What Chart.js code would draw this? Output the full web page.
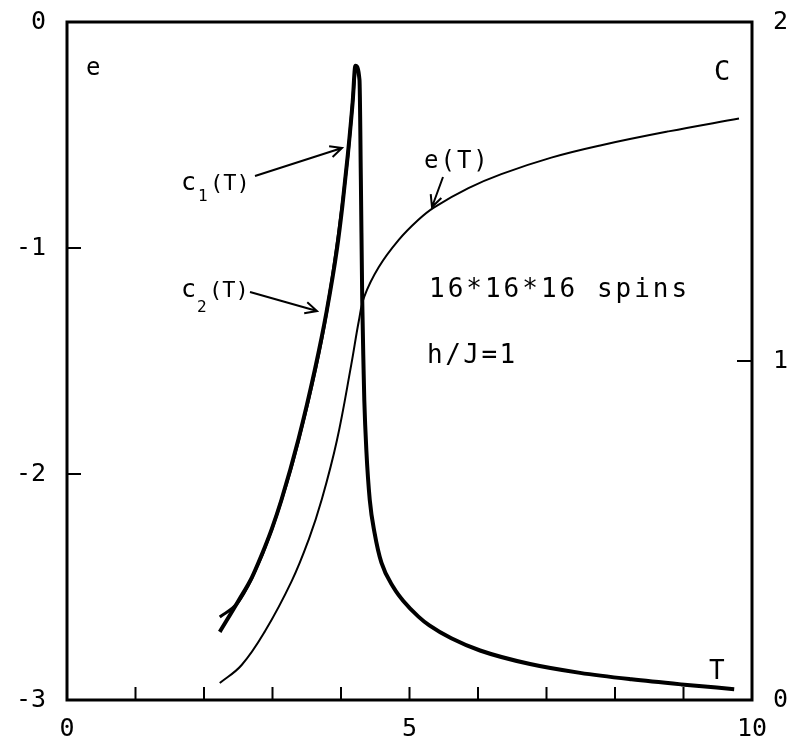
<!DOCTYPE html>
<html>
<head>
<meta charset="utf-8">
<script src="https://cdn.jsdelivr.net/npm/chart.js@4.4.0/dist/chart.umd.min.js"></script>
<style>
  html, body { margin: 0; padding: 0; background: #fff; }
  canvas { display: block; }
</style>
</head>
<body>
<canvas id="chart" width="790" height="738"></canvas>
<script>
// e(T): energy per spin, left axis
const tE = [2.23, 2.55, 2.89, 3.28, 3.53, 3.72, 3.94, 4.15, 4.26, 4.34, 4.55, 4.84, 5.13, 5.36, 5.86, 6.34, 7.07, 7.80, 8.78, 9.81];
const eValues = [-2.925, -2.845, -2.696, -2.474, -2.289, -2.112, -1.852, -1.516, -1.323, -1.215, -1.085, -0.965, -0.875, -0.820, -0.735, -0.673, -0.600, -0.545, -0.484, -0.427];

// c1(T): specific heat, right axis
const tC1 = [2.23, 2.51, 2.70, 2.84, 2.99, 3.13, 3.38, 3.62, 3.79, 3.94, 4.02, 4.10, 4.17, 4.21, 4.27, 4.29, 4.31, 4.33, 4.34, 4.37, 4.42, 4.49, 4.59, 4.77, 4.91, 5.13, 5.29, 5.61, 6.03, 6.76, 7.49, 8.24, 8.97, 9.74];
const c1Values = [0.201, 0.295, 0.362, 0.427, 0.505, 0.590, 0.770, 0.976, 1.146, 1.329, 1.457, 1.609, 1.763, 1.871, 1.829, 1.534, 1.180, 0.973, 0.885, 0.737, 0.590, 0.493, 0.405, 0.331, 0.292, 0.246, 0.220, 0.182, 0.146, 0.106, 0.080, 0.061, 0.046, 0.032];

// c2(T): second estimate, almost on top of c1 below Tc
const tC2 = [2.23, 2.49, 2.70, 2.99, 3.38, 3.79, 4.10, 4.21];
const c2Values = [0.245, 0.286, 0.360, 0.503, 0.766, 1.143, 1.605, 1.866];

// tick labels / marks
const xTickLabels = [0, 5, 10];
const xTickMarks = [1, 2, 3, 4, 5, 6, 7, 8, 9];
const eTickMarks = [-1, -2];
const cTickMarks = [1];

const toPoints = (xs, ys) => xs.map((x, i) => ({ x: x, y: ys[i] }));

const tickFont = { family: 'DejaVu Sans Mono', size: 25 };

// draw an open arrow head at (x2, y2)
function drawArrow(ctx, x1, y1, x2, y2) {
  const a = Math.atan2(y2 - y1, x2 - x1);
  const h = 13;
  ctx.beginPath();
  ctx.moveTo(x1, y1);
  ctx.lineTo(x2, y2);
  ctx.moveTo(x2 - h * Math.cos(a - 0.45), y2 - h * Math.sin(a - 0.45));
  ctx.lineTo(x2, y2);
  ctx.lineTo(x2 - h * Math.cos(a + 0.45), y2 - h * Math.sin(a + 0.45));
  ctx.stroke();
}

function drawText(ctx, str, x, y, size, spacing) {
  ctx.font = size + 'px "DejaVu Sans Mono"';
  ctx.letterSpacing = (spacing || 0) + 'px';
  ctx.fillText(str, x, y);
  ctx.letterSpacing = '0px';
}

const overlayPlugin = {
  id: 'overlay',
  afterDraw(chart) {
    const ctx = chart.ctx;
    const area = chart.chartArea;
    const sx = chart.scales.x;
    const se = chart.scales.e;
    const sc = chart.scales.C;

    ctx.save();
    ctx.strokeStyle = '#000';
    ctx.fillStyle = '#000';

    // frame
    ctx.lineWidth = 3;
    ctx.strokeRect(area.left, area.top, area.right - area.left, area.bottom - area.top);

    // inward tick marks
    ctx.lineWidth = 2;
    ctx.beginPath();
    xTickMarks.forEach(t => {
      const px = sx.getPixelForValue(t);
      ctx.moveTo(px, area.bottom);
      ctx.lineTo(px, area.bottom - 13);
    });
    eTickMarks.forEach(v => {
      const py = se.getPixelForValue(v);
      ctx.moveTo(area.left, py);
      ctx.lineTo(area.left + 14, py);
    });
    cTickMarks.forEach(v => {
      const py = sc.getPixelForValue(v);
      ctx.moveTo(area.right, py);
      ctx.lineTo(area.right - 15, py);
    });
    ctx.stroke();

    // annotations
    ctx.textBaseline = 'alphabetic';
    ctx.textAlign = 'left';
    drawText(ctx, 'e', 86, 75, 24);
    drawText(ctx, 'C', 714, 80, 27);
    drawText(ctx, 'T', 709, 679, 26);

    drawText(ctx, 'c', 181, 190, 25);
    drawText(ctx, '1', 198, 201, 16);
    drawText(ctx, '(T)', 210, 190, 22);

    drawText(ctx, 'c', 181, 297, 25);
    drawText(ctx, '2', 197, 312, 16);
    drawText(ctx, '(T)', 209, 297, 22);

    drawText(ctx, 'e(T)', 424, 168, 24, 2);
    drawText(ctx, '16*16*16 spins', 429, 297, 26, 3);
    drawText(ctx, 'h/J=1', 427, 363, 26, 2.5);

    ctx.lineWidth = 2;
    drawArrow(ctx, 255, 176, 342, 148);
    drawArrow(ctx, 250, 292, 317, 311);
    drawArrow(ctx, 443, 177, 432, 207);

    ctx.restore();
  }
};

const ctx = document.getElementById('chart').getContext('2d');
new Chart(ctx, {
  type: 'scatter',
  data: {
    datasets: [
      {
        label: 'e(T)',
        data: toPoints(tE, eValues),
        yAxisID: 'e',
        showLine: true,
        borderColor: '#000',
        borderWidth: 2,
        pointRadius: 0,
        tension: 0.4
      },
      {
        label: 'c1(T)',
        data: toPoints(tC1, c1Values),
        yAxisID: 'C',
        showLine: true,
        borderColor: '#000',
        borderWidth: 4,
        pointRadius: 0,
        cubicInterpolationMode: 'monotone'
      },
      {
        label: 'c2(T)',
        data: toPoints(tC2, c2Values),
        yAxisID: 'C',
        showLine: true,
        borderColor: '#000',
        borderWidth: 3,
        pointRadius: 0,
        cubicInterpolationMode: 'monotone'
      }
    ]
  },
  options: {
    responsive: false,
    animation: false,
    devicePixelRatio: 1,
    layout: { padding: { top: 22, left: 0, right: 0, bottom: 0 } },
    plugins: {
      legend: { display: false },
      tooltip: { enabled: false }
    },
    scales: {
      x: {
        type: 'linear',
        position: 'bottom',
        min: 0,
        max: 10,
        grid: { display: false, drawTicks: false },
        border: { display: false },
        afterBuildTicks: scale => { scale.ticks = xTickLabels.map(v => ({ value: v })); },
        ticks: { color: '#000', font: tickFont, padding: 14, maxRotation: 0 },
        afterFit: scale => {
          scale.height = 38;
          scale.paddingLeft = 0;
          scale.paddingRight = 0;
        }
      },
      e: {
        type: 'linear',
        position: 'left',
        min: -3,
        max: 0,
        grid: { display: false, drawTicks: false },
        border: { display: false },
        ticks: { color: '#000', font: tickFont, padding: 21, stepSize: 1 },
        afterFit: scale => {
          scale.width = 67;
          scale.paddingTop = 0;
          scale.paddingBottom = 0;
        }
      },
      C: {
        type: 'linear',
        position: 'right',
        min: 0,
        max: 2,
        grid: { display: false, drawTicks: false },
        border: { display: false },
        ticks: { color: '#000', font: tickFont, padding: 21, stepSize: 1 },
        afterFit: scale => {
          scale.width = 38;
          scale.paddingTop = 0;
          scale.paddingBottom = 0;
        }
      }
    }
  },
  plugins: [overlayPlugin]
});
</script>
</body>
</html>
